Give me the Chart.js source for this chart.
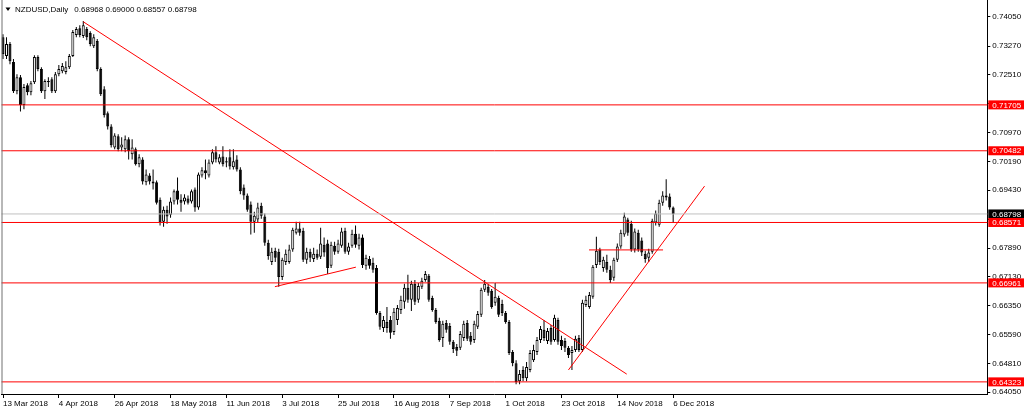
<!DOCTYPE html>
<html>
<head>
<meta charset="utf-8">
<script src="https://cdn.jsdelivr.net/npm/chart.js@4.4.1/dist/chart.umd.min.js"></script>
<style>
html,body{margin:0;padding:0;background:#fff;overflow:hidden}
canvas{display:block}
</style>
</head>
<body>
<canvas id="c" width="1024" height="413" style="width:1024px;height:413px"></canvas>
<script>
const symbolTitle = 'NZDUSD,Daily';
const lastQuote = [0.68968, 0.69000, 0.68557, 0.68798];

const dateLabels = ['13 Mar 2018','4 Apr 2018','26 Apr 2018','18 May 2018','11 Jun 2018','3 Jul 2018',
  '25 Jul 2018','16 Aug 2018','7 Sep 2018','1 Oct 2018','23 Oct 2018','14 Nov 2018','6 Dec 2018'];
const dateTickIndex = [0,16,32,48,64,80,96,112,128,144,160,176,192];

const opens = [
.7351,.7301,.7333,.7285,.7207,.7244,.7170,.7223,.7204,.7231,
.7298,.7266,.7207,.7234,.7239,.7207,.7252,.7260,.7258,.7271,
.7301,.7357,.7375,.7354,.7373,.7362,.7327,.7341,.7266,.7212,
.7148,.7113,.7057,.7087,.7057,.7052,.7079,.7039,.7052,.7012,
.7025,.6964,.6982,.6966,.6964,.6918,.6859,.6891,.6878,.6913,
.6942,.6918,.6913,.6921,.6913,.6945,.6897,.6982,.6996,.6982,
.7017,.7044,.7017,.7033,.7017,.7031,.7004,.7025,.6998,.6950,
.6929,.6905,.6859,.6865,.6902,.6873,.6803,.6752,.6782,.6779,
.6712,.6752,.6752,.6785,.6830,.6841,.6835,.6758,.6779,.6760,
.6774,.6766,.6798,.6801,.6742,.6795,.6779,.6795,.6835,.6779,
.6795,.6827,.6795,.6817,.6742,.6760,.6750,.6736,.6616,.6576,
.6592,.6597,.6565,.6597,.6624,.6646,.6683,.6651,.6694,.6651,
.6686,.6704,.6715,.6656,.6624,.6595,.6549,.6589,.6581,.6539,
.6525,.6523,.6549,.6589,.6555,.6544,.6579,.6611,.6678,.6686,
.6675,.6643,.6656,.6640,.6616,.6592,.6512,.6482,.6434,.6464,
.6442,.6464,.6490,.6512,.6544,.6571,.6541,.6576,.6544,.6597,
.6544,.6541,.6523,.6509,.6517,.6549,.6517,.6637,.6632,.6659,
.6744,.6785,.6736,.6752,.6731,.6710,.6758,.6793,.6825,.6865,
.6854,.6785,.6830,.6809,.6774,.6763,.6779,.6857,.6851,.6910,
.6929,.6926,.68968];
const highs = [
.7359,.7351,.7338,.7293,.7252,.7250,.7226,.7228,.7234,.7303,
.7303,.7271,.7239,.7244,.7244,.7258,.7277,.7282,.7287,.7306,
.7370,.7378,.7383,.7394,.7378,.7367,.7359,.7346,.7271,.7220,
.7153,.7119,.7095,.7092,.7084,.7089,.7084,.7079,.7057,.7039,
.7031,.6998,.6988,.6998,.6969,.6924,.6900,.6902,.6924,.6945,
.6977,.6932,.6932,.6929,.6945,.6950,.6990,.7004,.7025,.7025,
.7052,.7060,.7039,.7060,.7031,.7052,.7052,.7036,.7004,.6958,
.6934,.6913,.6886,.6910,.6910,.6881,.6811,.6790,.6790,.6787,
.6763,.6785,.6798,.6843,.6859,.6859,.6843,.6790,.6787,.6790,
.6785,.6843,.6817,.6811,.6806,.6806,.6811,.6843,.6843,.6803,
.6838,.6849,.6827,.6825,.6771,.6768,.6763,.6744,.6621,.6608,
.6632,.6608,.6629,.6637,.6662,.6694,.6718,.6702,.6704,.6696,
.6710,.6728,.6720,.6662,.6629,.6603,.6595,.6597,.6589,.6544,
.6533,.6568,.6595,.6597,.6565,.6595,.6621,.6683,.6704,.6694,
.6680,.6696,.6662,.6651,.6621,.6597,.6517,.6490,.6464,.6474,
.6485,.6517,.6531,.6552,.6581,.6597,.6576,.6584,.6611,.6603,
.6555,.6549,.6528,.6528,.6555,.6557,.6651,.6662,.6672,.6744,
.6819,.6790,.6766,.6771,.6742,.6763,.6801,.6838,.6883,.6870,
.6862,.6841,.6838,.6817,.6782,.6787,.6867,.6889,.6918,.6940,
.6972,.6934,.69000];
const lows = [
.7293,.7293,.7279,.7202,.7199,.7153,.7159,.7196,.7196,.7226,
.7260,.7202,.7186,.7218,.7202,.7202,.7247,.7255,.7252,.7266,
.7298,.7351,.7351,.7349,.7343,.7327,.7322,.7260,.7194,.7137,
.7105,.7057,.7052,.7047,.7047,.7044,.7025,.7025,.7009,.7004,
.6958,.6956,.6958,.6945,.6905,.6849,.6846,.6854,.6870,.6905,
.6905,.6886,.6905,.6905,.6908,.6886,.6891,.6977,.6972,.6977,
.7012,.7017,.7012,.7006,.7004,.6998,.6998,.6993,.6932,.6918,
.6886,.6825,.6830,.6857,.6867,.6795,.6758,.6744,.6752,.6686,
.6704,.6744,.6747,.6779,.6825,.6822,.6752,.6747,.6752,.6752,
.6758,.6760,.6766,.6720,.6736,.6771,.6774,.6790,.6774,.6771,
.6790,.6790,.6785,.6736,.6731,.6734,.6723,.6611,.6571,.6565,
.6563,.6547,.6557,.6584,.6613,.6627,.6643,.6621,.6637,.6643,
.6680,.6699,.6646,.6619,.6587,.6539,.6525,.6563,.6531,.6509,
.6501,.6517,.6541,.6541,.6531,.6536,.6573,.6605,.6672,.6662,
.6627,.6635,.6605,.6608,.6587,.6504,.6474,.6426,.6426,.6434,
.6434,.6458,.6485,.6504,.6536,.6541,.6533,.6531,.6539,.6531,
.6517,.6512,.6496,.6464,.6512,.6512,.6512,.6632,.6627,.6654,
.6736,.6744,.6726,.6723,.6696,.6702,.6752,.6787,.6819,.6822,
.6779,.6777,.6779,.6768,.6750,.6752,.6774,.6849,.6846,.6902,
.6916,.6891,.68557];
const closes = [
.7306,.7333,.7287,.7207,.7244,.7170,.7218,.7204,.7228,.7298,
.7266,.7207,.7234,.7231,.7207,.7252,.7266,.7274,.7271,.7301,
.7365,.7373,.7357,.7383,.7351,.7333,.7351,.7266,.7199,.7143,
.7113,.7063,.7089,.7052,.7065,.7079,.7047,.7057,.7012,.7031,
.6966,.6985,.6966,.6961,.6910,.6857,.6891,.6873,.6913,.6940,
.6918,.6910,.6924,.6910,.6940,.6897,.6985,.6996,.6988,.7017,
.7044,.7025,.7031,.7012,.7020,.7006,.7020,.6998,.6940,.6929,
.6891,.6859,.6875,.6897,.6875,.6803,.6768,.6779,.6763,.6712,
.6758,.6774,.6785,.6838,.6841,.6830,.6758,.6779,.6763,.6774,
.6763,.6801,.6777,.6736,.6798,.6779,.6801,.6833,.6779,.6793,
.6827,.6798,.6817,.6744,.6763,.6742,.6731,.6616,.6579,.6597,
.6576,.6563,.6619,.6629,.6651,.6683,.6651,.6694,.6646,.6688,
.6702,.6720,.6651,.6624,.6592,.6544,.6587,.6571,.6539,.6520,
.6515,.6560,.6587,.6547,.6539,.6587,.6613,.6678,.6694,.6670,
.6632,.6659,.6611,.6616,.6592,.6509,.6482,.6432,.6453,.6442,
.6472,.6509,.6517,.6544,.6573,.6549,.6568,.6539,.6603,.6539,
.6528,.6523,.6504,.6517,.6547,.6517,.6643,.6651,.6664,.6739,
.6782,.6752,.6758,.6731,.6704,.6758,.6793,.6830,.6873,.6830,
.6785,.6833,.6785,.6777,.6760,.6777,.6862,.6881,.6910,.6929,
.6924,.6897,.68798];

const priceTicks = [0.74050,0.73270,0.72510,0.71730,0.70970,0.70190,0.69430,0.68650,
  0.67890,0.67130,0.66350,0.65590,0.64810,0.64050];
const levelLines = [0.71705, 0.70482, 0.68571, 0.66961, 0.64323];
const bidPrice = 0.68798;
// trend lines: [barIndex, price] end points
const trendLines = [
  [[23, 0.7392], [178.7, 0.6453]],
  [[77.9, 0.6686], [101.1, 0.6738]],
  [[162.0, 0.6464], [201.0, 0.6954]],
  [[167.9, 0.6784], [189.1, 0.6784]]
];

Chart.defaults.font.family = "'Liberation Sans', Arial, sans-serif";
Chart.defaults.font.size = 8;
Chart.defaults.color = '#000';

const idx = closes.map((_, i) => i);
const bodyData = idx.map(i => ({x: i, y: [Math.min(opens[i], closes[i]), Math.max(opens[i], closes[i])]}));
const wickData = idx.map(i => ({x: i, y: [lows[i], highs[i]]}));
const bodyFill = idx.map(i => closes[i] >= opens[i] ? '#ffffff' : '#000000');

function lineDs(pts, color) {
  return {type: 'line', data: pts.map(p => ({x: p[0], y: p[1]})), borderColor: color,
    borderWidth: 1, pointRadius: 0, pointHoverRadius: 0, tension: 0, fill: false, order: -1};
}
const datasets = [
  {type: 'bar', data: bodyData, backgroundColor: bodyFill, borderColor: '#000', borderWidth: 1,
   borderSkipped: false, barThickness: 3, grouped: false, inflateAmount: 0, minBarLength: 1, order: 0},
  {type: 'bar', data: wickData, backgroundColor: '#000', borderWidth: 0, barThickness: 1,
   grouped: false, inflateAmount: 0, order: 1},
  lineDs([[-5, bidPrice], [400, bidPrice]], '#c0c0c0')
];
levelLines.forEach(p => datasets.push(lineDs([[-5, p], [400, p]], '#ff0000')));
trendLines.forEach(t => datasets.push(lineDs(t, '#ff0000')));

const decor = {
  id: 'decor',
  beforeDraw(chart) {
    const ctx = chart.ctx;
    ctx.save(); ctx.fillStyle = '#fff'; ctx.fillRect(0, 0, chart.width, chart.height); ctx.restore();
  },
  afterDraw(chart) {
    const {ctx, chartArea: a} = chart;
    const y = chart.scales.y;
    ctx.save();
    // left frame
    ctx.strokeStyle = '#707070'; ctx.lineWidth = 1;
    ctx.beginPath(); ctx.moveTo(2, 0); ctx.lineTo(2, a.bottom); ctx.stroke();
    // title
    ctx.fillStyle = '#000';
    ctx.beginPath(); ctx.moveTo(5.5, 7.5); ctx.lineTo(10.5, 7.5); ctx.lineTo(8, 11); ctx.closePath(); ctx.fill();
    ctx.font = "8px 'Liberation Sans', Arial, sans-serif";
    ctx.textBaseline = 'middle'; ctx.textAlign = 'left';
    ctx.fillText(symbolTitle, 15, 9.5);
    const w = ctx.measureText(symbolTitle).width;
    ctx.fillText(lastQuote.map(v => v.toFixed(5)).join(' '), 15 + w + 6, 9.5);
    // price labels
    const box = (p, col) => {
      const yy = y.getPixelForValue(p);
      ctx.fillStyle = col;
      ctx.fillRect(a.right + 1, yy - 4.5, chart.width - a.right - 1, 9);
      ctx.fillStyle = '#fff';
      ctx.fillText(p.toFixed(5), a.right + 5, yy + 0.5);
    };
    box(bidPrice, '#000');
    levelLines.forEach(p => box(p, '#ff0000'));
    ctx.restore();
  }
};

new Chart(document.getElementById('c'), {
  type: 'bar',
  data: {datasets},
  options: {
    responsive: false,
    animation: false,
    events: [],
    layout: {padding: {left: 1.5, top: 0, right: 0, bottom: 0}},
    plugins: {legend: {display: false}, tooltip: {enabled: false}, title: {display: false}},
    scales: {
      x: {
        type: 'linear', position: 'bottom', min: -0.43, max: 282.0, offset: false,
        grid: {display: true, drawOnChartArea: false, drawTicks: true, tickLength: 4, color: '#000', offset: false},
        border: {display: true, color: '#000', width: 1},
        ticks: {align: 'start', padding: 1, autoSkip: false, maxRotation: 0, minRotation: 0,
          color: '#000', font: {size: 8},
          callback: (v, i) => dateLabels[i]},
        afterBuildTicks: s => { s.ticks = dateTickIndex.map(v => ({value: v})); },
        afterFit: s => { s.height = 19; s.paddingLeft = 0; s.paddingRight = 0; }
      },
      y: {
        type: 'linear', position: 'right', min: 0.6400, max: 0.7450,
        grid: {display: true, drawOnChartArea: false, drawTicks: true, tickLength: 3, color: '#000'},
        border: {display: true, color: '#000', width: 1},
        ticks: {padding: 2, autoSkip: false, color: '#000', font: {size: 8},
          callback: v => Number(v).toFixed(5)},
        afterBuildTicks: s => { s.ticks = priceTicks.map(v => ({value: v})); },
        afterFit: s => { s.width = 36.7; s.paddingTop = 0; s.paddingBottom = 0; }
      }
    }
  },
  plugins: [decor]
});
</script>
</body>
</html>
